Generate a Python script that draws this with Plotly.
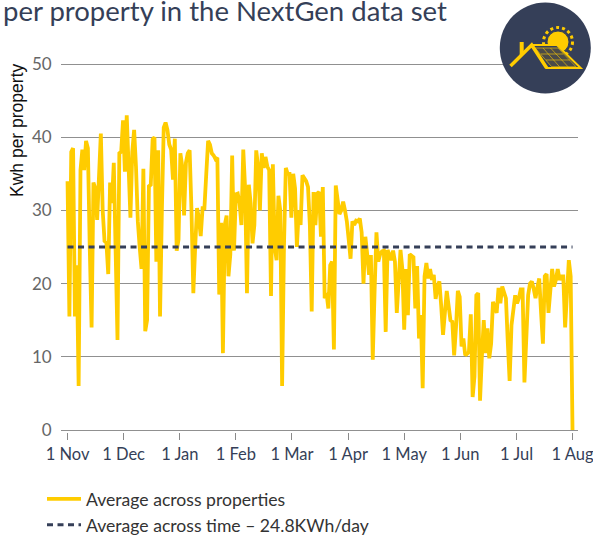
import plotly.graph_objects as go

TICK_LABELS = ["1 Nov", "1 Dec", "1 Jan", "1 Feb", "1 Mar", "1 Apr", "1 May", "1 Jun", "1 Jul", "1 Aug"]
TICK_POS = [0, 30.3, 60.7, 91, 121.3, 151.7, 182, 212.3, 242.7, 273]
Y_TICKS = [0, 10, 20, 30, 40, 50]
AVERAGE_TIME = 25.0

W, H = 593, 537
L, R, T, B = 60.7, 577.7, 61.8, 432.2

nov = [34, 15.5, 38, 38.5, 15.5, 22.5, 6, 35.5, 38.3, 35.5, 39.5, 38.5, 25, 14, 33.8, 33, 28.7, 35, 40.5, 30,
       25.8, 25.6, 21.3, 33.8, 31, 36.5, 25, 12.3, 37.8, 38]
dec = [42.3, 35.3, 43, 35.5, 29, 38, 41, 36, 28.5, 25, 22, 35.7, 13.5, 15, 33.3, 33.5, 39.7, 40, 23, 38.2,
       15.5, 30, 41.3, 42, 41, 39, 38.3, 34.2, 39.8, 24.5, 26]
jan = [37.8, 36, 29.3, 36.5, 37.8, 38.2, 30, 18.7, 25, 30.3, 29, 26.5, 30.3, 30.3, 35, 39.5, 39, 37.8, 37.5, 37,
       37.2, 18.5, 28.3, 10.5, 28, 29.3, 21, 24, 37.5, 24.5, 32.2]
feb = [32.3, 31, 28, 38.3, 33, 18.7, 33.5, 31, 25.5, 28, 38.2, 36, 30, 37.8, 35.8, 37.3, 36, 35.5, 18.3, 36.3,
       25, 23.2, 32, 30, 6, 25, 35.8, 35, 35, 29]
mar = [35, 33, 25, 30, 28, 34.8, 34.5, 34, 33.2, 28, 16.2, 32.5, 28, 32.3, 32.5, 26.4, 33.2, 18, 18.7, 16.6,
       22.5, 23, 11, 33.4, 31.5, 29.5, 30, 31.2, 30, 28.5]
apr = [26, 23.4, 28.5, 28, 28.6, 28.5, 28.9, 27, 20, 26.4, 24, 21.2, 23.9, 9.6, 19, 27, 23, 24, 24.4, 24.5,
       13.4, 24.6, 24, 23.2, 24.5, 23, 16, 20, 24.6, 22]
may = [13.7, 22, 15.7, 24, 23.8, 23.6, 16.6, 22.4, 12.5, 15.7, 5.7, 21, 22.8, 20.7, 22, 20.5, 21.2, 17.9, 19.5, 20.3,
       17, 13, 16, 19, 17, 15, 14.8, 10.2, 14, 19, 18.2]
jun = [11.4, 12.5, 10.2, 10.4, 10.7, 15.8, 4.5, 7.3, 18.4, 18.7, 4, 10, 15, 10.5, 13.9, 9.8, 11.8, 17.5, 16.8, 16,
       19.4, 17.3, 19.6, 18.8, 18, 12, 6.7, 14.3, 16.5, 18.4]
jul = [17.3, 18, 19.2, 19.2, 6.5, 14, 18.4, 20, 20.3, 19.3, 18, 19.5, 20.7, 16, 11.8, 21, 21.3, 16, 19, 22,
       19.6, 20.5, 22, 20.5, 21, 21, 14, 18, 23.2, 21]
aug = [0]
values = nov + dec + jan + feb + mar + apr + may + jun + jul + aug
days = list(range(len(values)))
average = [AVERAGE_TIME] * len(values)

NAVY = "#353f58"
GOLD = "#ffcc00"


def px(x):
    return x / W


def py(y):
    return 1 - y / H


def path(points, close=True):
    d = "M " + " L ".join(f"{px(a):.5f},{py(b):.5f}" for a, b in points)
    return d + (" Z" if close else "")


def circle(cx, cy, r, **kw):
    return dict(type="circle", xref="paper", yref="paper", x0=px(cx - r), x1=px(cx + r),
                y0=py(cy + r), y1=py(cy - r), layer="above", **kw)


def poly(points, close=True, **kw):
    return dict(type="path", xref="paper", yref="paper", path=path(points, close), layer="above", **kw)


fig = go.Figure()
fig.add_trace(go.Scatter(x=days, y=values, mode="lines", name="Average across properties",
                         line=dict(color=GOLD, width=3.8, shape="linear"), cliponaxis=False))
fig.add_trace(go.Scatter(x=days, y=average, mode="lines", name="Average across time – 24.8KWh/day",
                         line=dict(color=NAVY, width=3, dash="6px,4.5px"), cliponaxis=False))

shapes = [
    circle(545.3, 48, 45.5, fillcolor=NAVY, line=dict(width=0)),
    circle(558, 42, 14.5, line=dict(color=GOLD, width=3, dash="dot")),
    circle(558, 42, 11, fillcolor=GOLD, line=dict(color=NAVY, width=1)),
    poly([(531.7, 45), (557, 45), (580.7, 68), (546.7, 68)], fillcolor=NAVY, line=dict(color=GOLD, width=2)),
    poly([(535, 48), (558, 48), (576, 66.7), (551.7, 66.7)], fillcolor="#4a4a48", line=dict(color=GOLD, width=0.6)),
    poly([(541, 54), (563.5, 54)], close=False, line=dict(color=GOLD, width=0.6)),
    poly([(546, 60), (570, 60)], close=False, line=dict(color=GOLD, width=0.6)),
    poly([(543, 48), (559.5, 66.7)], close=False, line=dict(color=GOLD, width=0.6)),
    poly([(550.5, 48), (568, 66.7)], close=False, line=dict(color=GOLD, width=0.6)),
    poly([(510.5, 66), (531.7, 45), (546.7, 68)], close=False, line=dict(color=GOLD, width=3.5)),
    poly([(521.7, 55), (521.7, 42)], close=False, line=dict(color=GOLD, width=4)),
]

annotations = [
    dict(text="per property in the NextGen data set", xref="paper", yref="paper",
         x=px(1), y=py(29), xanchor="left", yanchor="bottom", showarrow=False,
         font=dict(family="Lato", size=27.5, color=NAVY)),
    dict(text="Kwh per property", xref="paper", yref="paper", x=px(17), y=py(130), textangle=-90,
         xanchor="center", yanchor="middle", showarrow=False,
         font=dict(family="Liberation Sans", size=17.5, color="#111111")),
]

fig.update_layout(
    width=W, height=H, autosize=False,
    paper_bgcolor="white", plot_bgcolor="white",
    margin=dict(l=0, r=0, t=0, b=0, pad=0, autoexpand=False),
    shapes=shapes, annotations=annotations,
    xaxis=dict(domain=[L / W, R / W], range=[-3.7, 275.8], tickmode="array", tickvals=TICK_POS,
               ticktext=TICK_LABELS, ticks="outside", ticklen=7, tickcolor="#8a8a8a", tickwidth=1,
               showgrid=False, zeroline=False, showline=False, ticklabeloverflow="allow",
               tickfont=dict(family="Lato", size=16.5, color=NAVY)),
    yaxis=dict(domain=[1 - B / H, 1 - T / H], range=[-0.3, 50.3], tickmode="array", tickvals=Y_TICKS,
               ticks="", showgrid=True, gridcolor="#909090", gridwidth=1.3, zeroline=False, showline=False,
               ticklabelstandoff=8,
               tickfont=dict(family="Lato", size=17, color="#666666")),
    showlegend=True,
    legend=dict(x=42 / W, y=1 - 481 / H, xanchor="left", yanchor="top",
                bgcolor="rgba(0,0,0,0)", font=dict(family="Lato", size=17.6, color="#333333"), itemwidth=34,
                traceorder="normal", tracegroupgap=0),
)

fig.write_html("out.html", post_script="document.body.style.margin='0';",
               config={"displayModeBar": False})
